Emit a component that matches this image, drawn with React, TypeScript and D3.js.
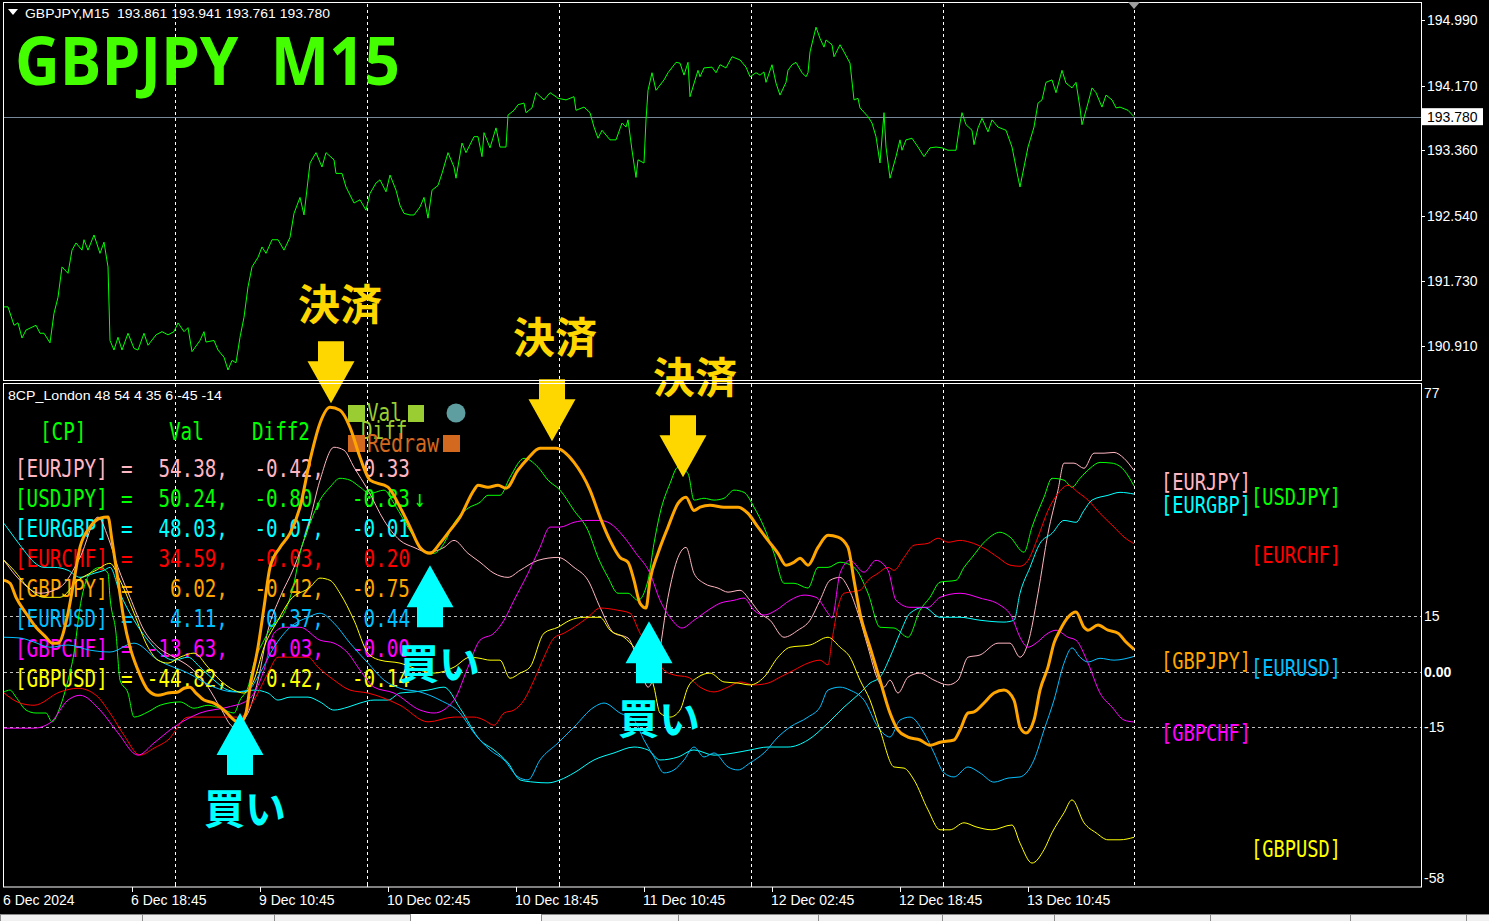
import React from "react";
import * as d3 from "d3";

type P = [number, number];

// ---------- header / price data ----------
const symbolText = "GBPJPY,M15";
const ohlcText = ["193.861", "193.941", "193.761", "193.780"];
const titleText = "GBPJPY  M15";
const indicatorTitle = "8CP_London 48 54 4 35 6 -45 -14";
const priceTicks = [194.99, 194.17, 193.36, 192.54, 191.73, 190.91];
const lastPrice = 193.78;

// [bar index, price]
const gbpjpyPrice: P[] = [[0,191.40],[2,191.40],[5,191.17],[7,191.20],[9,191.01],[11,191.11],[16,191.17],[18,191.07],[20,191.07],[23,190.95],[25,191.32],[27,191.52],[29,191.90],[32,191.82],[34,192.11],[36,192.20],[39,192.11],[40,192.24],[42,192.11],[45,192.30],[48,192.07],[50,192.21],[52,191.90],[53,190.98],[55,190.86],[57,191.02],[59,190.86],[62,191.07],[65,190.88],[67,190.86],[70,191.07],[72,190.92],[76,191.05],[79,191.09],[82,191.05],[85,191.09],[87,191.20],[90,191.09],[92,191.14],[94,190.84],[98,190.98],[100,191.09],[101,190.96],[105,190.98],[107,190.86],[110,190.77],[112,190.61],[114,190.73],[116,190.70],[118,191.02],[120,191.27],[122,191.65],[124,191.90],[127,192.02],[129,192.15],[131,192.07],[134,192.24],[137,192.24],[140,192.11],[143,192.27],[145,192.57],[148,192.77],[150,192.55],[153,193.20],[156,193.33],[159,193.15],[161,193.33],[165,193.24],[166,193.07],[169,193.07],[171,192.90],[175,192.70],[178,192.74],[181,192.61],[183,192.82],[186,192.95],[188,192.99],[191,192.84],[193,193.05],[196,192.86],[198,192.67],[200,192.57],[203,192.55],[205,192.55],[208,192.65],[210,192.77],[212,192.51],[214,192.86],[217,192.92],[219,193.07],[222,193.33],[225,193.15],[226,193.01],[229,193.45],[231,193.33],[235,193.53],[237,193.53],[239,193.28],[240,193.58],[243,193.39],[246,193.64],[248,193.40],[251,193.40],[252,193.80],[255,193.86],[257,193.93],[260,193.95],[261,193.83],[264,193.89],[266,194.08],[270,193.99],[273,194.08],[276,194.03],[277,194.01],[281,193.99],[285,194.03],[286,193.86],[290,193.90],[293,193.83],[295,193.65],[297,193.51],[299,193.61],[303,193.49],[306,193.49],[309,193.70],[311,193.65],[312,193.74],[314,193.36],[316,193.02],[317,193.24],[320,193.20],[321,193.74],[322,194.11],[324,194.33],[326,194.11],[330,194.24],[332,194.33],[336,194.46],[338,194.45],[340,194.30],[342,194.46],[343,194.03],[347,194.36],[348,194.28],[350,194.39],[354,194.40],[356,194.33],[358,194.43],[361,194.39],[364,194.53],[368,194.49],[371,194.40],[373,194.28],[376,194.33],[378,194.30],[380,194.34],[381,194.21],[384,194.43],[386,194.20],[388,194.05],[391,194.21],[392,194.36],[394,194.43],[396,194.46],[399,194.33],[401,194.28],[402,194.33],[403,194.59],[406,194.90],[408,194.76],[410,194.65],[411,194.74],[414,194.68],[415,194.53],[418,194.68],[420,194.59],[423,194.45],[425,193.99],[427,194.01],[428,193.89],[432,193.78],[434,193.70],[436,193.53],[438,193.20],[440,193.83],[441,193.40],[443,193.01],[446,193.28],[448,193.49],[449,193.36],[451,193.49],[454,193.51],[457,193.40],[460,193.28],[463,193.39],[466,193.40],[469,193.39],[472,193.36],[476,193.36],[478,193.70],[479,193.83],[481,193.68],[484,193.61],[485,193.43],[487,193.64],[489,193.76],[492,193.59],[494,193.74],[497,193.65],[501,193.61],[504,193.40],[507,193.02],[508,192.90],[510,193.15],[512,193.40],[515,193.65],[517,193.95],[519,193.99],[521,194.21],[524,194.24],[526,194.08],[529,194.36],[531,194.20],[534,194.14],[536,194.21],[538,193.89],[539,193.68],[542,193.95],[544,194.14],[546,194.08],[549,193.90],[551,194.05],[554,193.99],[556,193.89],[558,193.90],[562,193.86],[565,193.78]];

// ---------- indicator data ----------
const indTickLabels: [number, string][] = [[77, "77"], [15, "15"], [0, "0.00"], [-15, "-15"], [-58, "-58"]];
const levelLines = [15, 0, -15];

const pairs = ["EURJPY", "USDJPY", "EURGBP", "EURCHF", "GBPJPY", "EURUSD", "GBPCHF", "GBPUSD"];
const pairColors = ["#ffb6c1", "#00ff00", "#00ffff", "#ff0000", "#ffa500", "#00bfff", "#ff00ff", "#ffff00"];
const diff2Vals = ["-0.42", "-0.80", "-0.07", "-0.03", "-0.42", "0.37", "0.03", "0.42"];
const diffVals = ["-0.33", "-0.83", "-0.01", "0.20", "-0.75", "0.44", "-0.00", "-0.14"];
const diffMarks = ["", "↓", "", "", "", "", "", ""];

const eurjpy: P[] = [[0,30.1],[8,24.7],[18,21.2],[28,22.8],[38,30.9],[47,41.8],[52,36.4],[57,28.2],[63,20.1],[70,11.2],[77,6.6],[85,3.9],[93,1.2],[102,-4.2],[108,-9.6],[115,-15.0],[122,-11.2],[127,-2.3],[132,11.2],[138,20.1],[145,28.2],[152,39.1],[158,51.8],[165,60.7],[170,59.9],[175,55.3],[182,49.1],[190,40.9],[198,35.5],[205,33.6],[212,32.3],[220,33.6],[225,35.5],[232,32.0],[238,29.6],[245,26.6],[252,25.5],[258,27.4],[267,30.1],[277,30.9],[285,28.2],[292,24.7],[298,17.4],[305,10.4],[312,9.1],[318,1.2],[322,-4.2],[327,3.1],[332,20.1],[337,30.9],[341,33.6],[345,26.6],[350,23.9],[357,22.6],[362,21.5],[368,22.0],[373,19.3],[378,15.8],[383,13.9],[390,9.3],[397,11.2],[403,13.9],[408,19.3],[413,24.7],[418,25.5],[422,22.8],[427,15.8],[432,6.6],[437,-2.3],[440,-4.2],[443,-2.3],[447,-5.8],[452,-1.5],[458,-0.4],[465,-2.3],[472,-3.6],[477,-2.3],[482,3.9],[488,4.5],[497,7.7],[503,7.7],[508,3.9],[512,7.7],[517,21.2],[522,37.4],[527,49.1],[530,56.4],[535,56.4],[540,55.0],[545,59.1],[550,59.1],[555,59.3],[560,57.7],[565,54.38]];

const usdjpy: P[] = [[0,-5.5],[3,-5.0],[6,-6.9],[11,-10.4],[16,-11.2],[21,-11.2],[24,-13.6],[28,-9.6],[32,-2.3],[35,5.0],[38,17.4],[43,26.6],[48,28.2],[52,26.6],[53,20.1],[56,10.4],[58,-2.3],[62,-5.8],[65,-12.3],[72,-10.9],[78,-9.1],[88,-8.2],[95,-9.9],[102,-9.1],[108,-9.9],[115,-11.2],[118,-7.7],[122,-4.2],[125,2.3],[130,8.5],[135,13.1],[140,15.8],[145,23.9],[148,32.0],[153,40.1],[158,46.4],[163,49.9],[168,52.3],[173,51.8],[178,49.9],[183,48.2],[190,49.1],[195,45.5],[200,40.9],[205,36.4],[210,32.8],[215,32.0],[220,34.7],[225,40.1],[232,44.2],[238,45.8],[242,47.7],[248,47.7],[253,52.6],[260,57.7],[267,55.3],[272,51.8],[278,49.1],[285,43.6],[292,38.2],[297,30.9],[302,25.5],[307,21.2],[312,21.2],[317,19.3],[322,24.7],[325,34.7],[328,42.8],[333,50.9],[337,55.3],[342,53.6],[345,46.4],[350,46.9],[355,46.4],[360,46.9],[365,49.1],[370,48.5],[375,44.5],[380,39.1],[385,32.0],[390,23.9],[395,23.9],[402,22.6],[407,28.2],[412,28.2],[418,29.6],[425,28.2],[432,21.2],[438,12.0],[445,11.8],[452,9.3],[458,16.6],[463,20.1],[468,24.2],[476,24.7],[480,28.2],[484,30.9],[491,35.5],[498,37.7],[503,36.4],[510,32.3],[514,39.1],[520,47.2],[524,52.3],[530,51.8],[534,49.9],[538,52.3],[543,55.0],[548,56.6],[554,56.4],[560,54.5],[565,50.24]];

const eurgbp: P[] = [[0,40.1],[5,36.4],[10,32.8],[15,29.6],[20,28.2],[25,28.2],[32,27.4],[38,25.5],[45,26.6],[50,27.4],[53,28.2],[58,21.2],[65,13.9],[72,8.5],[78,5.0],[85,3.1],[92,3.9],[98,1.2],[105,-2.3],[112,-5.0],[118,-5.5],[125,-5.0],[132,-5.8],[137,-7.7],[143,-6.9],[152,-6.9],[158,-8.2],[165,-10.4],[172,-9.6],[178,-8.5],[185,-7.7],[192,-7.7],[198,-5.8],[205,-5.5],[212,-5.0],[220,-4.2],[228,-9.9],[238,-18.5],[245,-21.2],[252,-24.7],[258,-29.3],[265,-29.9],[272,-30.1],[278,-29.3],[285,-27.4],[295,-23.9],[305,-22.0],[315,-20.4],[322,-21.2],[328,-23.9],[337,-23.1],[345,-21.2],[355,-22.6],[365,-22.0],[373,-21.2],[382,-20.4],[392,-20.4],[402,-18.5],[412,-13.9],[420,-9.6],[428,-5.8],[433,-3.1],[438,-1.5],[443,3.9],[448,10.4],[453,15.8],[460,17.4],[468,14.7],[478,14.7],[488,13.9],[500,13.4],[505,13.9],[508,21.2],[513,28.2],[518,34.7],[524,37.4],[530,40.9],[536,40.4],[540,43.6],[544,46.4],[552,47.7],[558,48.5],[565,48.03]];

const eurchf: P[] = [[0,-5.8],[8,-8.5],[15,-9.1],[28,-5.5],[37,-4.5],[46,-6.4],[53,-11.2],[60,-17.2],[68,-22.6],[75,-20.7],[82,-18.5],[92,-12.3],[107,-12.3],[118,-12.3],[125,-7.7],[132,-0.4],[137,3.9],[145,3.9],[152,3.9],[157,1.2],[165,-2.3],[173,-5.0],[182,-5.8],[198,-9.1],[212,-13.6],[225,-12.3],[235,-12.3],[240,-13.1],[245,-14.5],[250,-11.2],[255,-10.4],[260,-7.7],[265,-2.3],[270,3.9],[275,9.1],[280,10.4],[285,12.0],[292,14.7],[298,17.2],[307,16.6],[313,15.8],[318,10.4],[323,6.6],[330,0.4],[335,-0.9],[342,-1.5],[348,-4.2],[355,-5.5],[362,-4.2],[368,-2.8],[375,-3.6],[382,-3.1],[388,-1.5],[395,0.4],[402,2.3],[408,3.1],[412,1.8],[414,8.5],[417,17.4],[420,21.2],[423,21.5],[428,22.0],[432,24.7],[437,26.6],[442,28.2],[445,27.4],[450,30.9],[455,34.2],[462,34.7],[467,36.1],[472,35.0],[478,35.5],[483,35.0],[490,33.4],[497,30.9],[503,28.8],[508,28.5],[512,30.1],[517,36.4],[522,43.6],[527,48.2],[532,50.4],[537,48.5],[542,46.4],[548,42.8],[555,39.1],[560,36.4],[565,34.59]];

const gbpjpy: P[] = [[0,24.7],[3,23.9],[6,20.1],[11,15.8],[16,12.0],[21,9.3],[24,7.7],[27,7.7],[32,15.8],[35,24.7],[38,33.6],[43,39.1],[48,41.5],[52,41.8],[54,35.5],[57,24.7],[60,13.9],[63,6.6],[67,0.4],[72,-5.0],[77,-6.4],[82,-5.8],[87,-5.5],[90,-4.5],[93,-4.2],[96,-5.8],[100,-7.7],[105,-8.5],[110,-10.4],[115,-13.1],[118,-13.9],[121,-11.2],[123,-4.2],[127,6.6],[130,17.4],[133,28.2],[138,33.6],[143,37.4],[148,44.5],[153,57.2],[158,67.2],[163,71.5],[168,70.7],[173,66.1],[178,58.0],[183,51.8],[192,49.9],[198,44.5],[203,39.1],[208,33.6],[213,32.0],[218,34.7],[223,38.2],[228,41.8],[235,49.1],[237,50.4],[242,49.9],[247,50.4],[251,49.6],[257,54.5],[262,57.7],[268,60.4],[276,60.4],[285,56.6],[293,49.1],[298,41.8],[303,35.5],[308,30.9],[312,29.6],[315,24.7],[318,18.5],[321,17.2],[323,24.7],[327,32.0],[332,39.1],[337,45.5],[341,47.2],[345,43.6],[348,44.5],[353,45.0],[360,44.5],[367,44.5],[372,42.8],[377,39.1],[382,35.5],[387,32.0],[391,28.8],[395,29.6],[398,30.7],[402,28.8],[407,33.6],[412,36.9],[417,36.4],[422,33.6],[425,24.7],[428,15.8],[433,6.6],[438,-2.3],[443,-11.2],[447,-15.8],[452,-17.7],[458,-18.5],[463,-19.9],[468,-19.1],[475,-18.5],[478,-15.8],[482,-11.2],[485,-10.9],[490,-8.5],[495,-5.8],[500,-5.0],[505,-7.7],[508,-15.0],[511,-16.6],[515,-13.1],[518,-5.0],[522,1.2],[525,7.7],[528,11.2],[532,14.7],[536,16.1],[540,12.0],[542,11.2],[547,12.6],[552,11.2],[557,10.4],[561,8.0],[565,6.02]];

const eurusd: P[] = [[0,9.3],[8,9.1],[15,8.0],[23,6.6],[32,7.2],[43,5.8],[53,5.3],[65,7.7],[77,3.1],[92,-0.4],[105,-4.2],[115,-5.5],[122,-5.0],[128,-0.4],[135,6.6],[143,12.0],[152,14.7],[158,15.8],[165,13.1],[173,7.7],[182,2.3],[190,-2.3],[198,-4.5],[208,-5.5],[218,-7.7],[228,-11.2],[235,-16.6],[243,-21.2],[250,-23.9],[257,-28.5],[262,-29.3],[268,-23.9],[277,-19.3],[285,-15.0],[295,-9.6],[300,-8.5],[308,-11.2],[315,-13.1],[320,-18.5],[325,-23.1],[330,-27.4],[335,-26.6],[340,-23.9],[345,-20.4],[350,-23.1],[355,-22.0],[362,-25.8],[367,-26.6],[373,-24.7],[380,-22.0],[387,-17.7],[393,-15.0],[402,-12.3],[408,-9.6],[412,-5.0],[418,-4.2],[423,-5.0],[430,-7.7],[437,-15.0],[443,-17.7],[448,-13.1],[453,-12.3],[460,-16.6],[465,-22.0],[470,-27.4],[475,-28.5],[482,-25.8],[488,-27.4],[495,-29.9],[502,-28.8],[508,-28.5],[515,-23.9],[520,-15.8],[525,-7.7],[530,2.3],[534,6.4],[538,3.9],[542,2.6],[548,3.6],[555,3.1],[565,4.11]];

const gbpchf: P[] = [[0,-15.3],[15,-15.3],[23,-13.9],[32,-7.7],[38,-6.4],[48,-10.4],[57,-16.6],[67,-22.6],[75,-19.3],[85,-15.0],[98,-11.2],[112,-9.6],[122,-7.7],[130,0.4],[135,10.4],[140,12.0],[148,12.0],[158,8.5],[165,7.7],[172,5.0],[178,0.4],[185,-4.2],[195,-5.8],[208,-10.4],[215,-11.2],[225,-7.7],[232,1.2],[238,8.5],[245,10.4],[250,13.9],[255,19.3],[262,26.6],[268,33.6],[273,39.1],[278,39.1],[285,40.4],[292,40.9],[298,40.9],[303,40.1],[310,36.4],[316,32.0],[323,26.6],[328,19.3],[333,14.7],[339,11.8],[345,13.9],[352,16.6],[358,18.5],[365,19.3],[370,19.9],[375,16.6],[380,15.3],[386,16.6],[393,19.3],[400,20.7],[406,20.1],[412,15.8],[414,14.5],[418,26.6],[423,30.1],[430,26.9],[436,30.1],[442,27.4],[446,19.3],[453,17.4],[462,17.4],[468,20.1],[478,21.2],[488,19.9],[498,18.0],[504,14.7],[508,9.3],[512,6.6],[516,7.7],[522,10.4],[526,11.2],[532,9.3],[536,8.5],[542,2.3],[548,-5.8],[554,-9.6],[560,-13.1],[565,-13.63]];

const gbpusd: P[] = [[0,30.1],[5,27.4],[12,22.8],[20,20.1],[28,20.1],[37,24.7],[46,27.4],[53,29.3],[58,24.7],[65,15.8],[72,6.6],[77,3.1],[82,2.3],[88,3.9],[95,5.0],[102,1.2],[108,-2.3],[115,-5.0],[120,-5.8],[125,-2.3],[130,6.6],[137,13.9],[143,19.3],[153,22.8],[158,25.3],[163,24.7],[168,21.2],[175,13.9],[182,5.0],[188,3.1],[198,2.3],[208,0.4],[215,-0.4],[225,1.2],[233,3.9],[238,3.6],[243,3.1],[248,3.1],[253,-1.8],[258,-0.4],[263,1.2],[270,10.4],[277,12.0],[283,13.9],[290,14.7],[298,14.7],[303,11.2],[310,9.3],[315,6.6],[322,1.2],[325,-4.2],[328,-11.2],[333,-12.3],[338,-10.4],[342,-4.2],[347,-1.5],[353,-0.4],[360,-2.8],[367,-3.1],[373,-3.6],[380,-1.5],[387,3.9],[393,6.6],[403,7.2],[412,9.3],[418,6.6],[423,3.9],[428,-2.3],[433,-7.7],[438,-15.8],[445,-25.8],[450,-26.1],[455,-29.3],[462,-37.4],[468,-42.8],[473,-42.8],[480,-40.9],[486,-42.0],[494,-42.8],[504,-41.5],[508,-46.4],[514,-51.8],[520,-48.2],[524,-43.6],[530,-38.2],[534,-34.7],[540,-40.9],[546,-43.6],[552,-45.5],[558,-45.5],[565,-44.82]];

const seriesList: P[][] = [eurjpy, usdjpy, eurgbp, eurchf, gbpjpy, eurusd, gbpchf, gbpusd];
const drawOrder = [0, 1, 2, 3, 5, 6, 7, 4];

// ---------- time axis ----------
const timeLabels = ["6 Dec 2024", "6 Dec 18:45", "9 Dec 10:45", "10 Dec 02:45", "10 Dec 18:45", "11 Dec 10:45", "12 Dec 02:45", "12 Dec 18:45", "13 Dec 10:45"];
const timeLabelBars = [0, 64, 128, 192, 256, 320, 384, 448, 512];
const daySeparators = [85.5, 181.5, 277.5, 373.5, 469.5];
const currentBar = 565;

// ---------- signals (tip at [bar, value], label at [bar, value]) ----------
const exitSignals = [
  { bar: 163.5, val: 72.6, labelBar: 168, labelVal: 100.0 },
  { bar: 274, val: 62.3, labelBar: 275.5, labelVal: 91.3 },
  { bar: 339.5, val: 52.6, labelBar: 345.5, labelVal: 80.5 },
];
const buySignals = [
  { bar: 118, val: -11.2, labelBar: 120.5, labelVal: -36.4 },
  { bar: 213, val: 28.8, labelBar: 217.5, labelVal: 2.8 },
  { bar: 322.5, val: 13.6, labelBar: 327.5, labelVal: -12.0 },
];
const exitText = "決済";
const buyText = "買い";

const AXIS_FONT = "'Liberation Sans', Arial, sans-serif";
const MONO = "'DejaVu Sans Mono', 'Liberation Mono', monospace";
const JP = "'Noto Sans CJK JP', sans-serif";
const MONO_ADV = 0.602;
const CW = 11.6;
const RCW = 11.25;

function arrowPath(cx: number, tipY: number, dir: number) {
  const H = 62, hh = 42, sw = 13, hw = 23.5;
  const base = tipY - dir * H;
  const neck = tipY - dir * hh;
  return `M${cx - sw},${base}L${cx + sw},${base}L${cx + sw},${neck}L${cx + hw},${neck}L${cx},${tipY}L${cx - hw},${neck}L${cx - sw},${neck}Z`;
}

// Tall, narrow monospace text (gothic-like) drawn with natural widths
function Mono({ x, y, fill, cw = CW, children }: { x: number; y: number; fill: string; cw?: number; children: React.ReactNode }) {
  return (
    <text
      transform={`translate(${x},${y}) scale(1,1.25)`}
      x={0}
      y={0}
      fill={fill}
      fontFamily={MONO}
      fontSize={cw / MONO_ADV}
      dominantBaseline="central"
      style={{ whiteSpace: "pre" }}
    >
      {children}
    </text>
  );
}

export default function App() {
  const W = 1489, H = 921;
  const L = 4, R = 1421;
  const x = d3.scaleLinear().domain([0, 708.5]).range([L, R]);
  const py = d3.scaleLinear().domain([190.485, 195.19]).range([380, 4]);
  const iy = d3.scaleLinear().domain([-58, 77]).range([886, 387]);
  const priceLine = d3.line<P>().x((d) => x(d[0])).y((d) => py(d[1]));
  const indLine = d3.line<P>().x((d) => x(d[0])).y((d) => iy(d[1])).curve(d3.curveMonotoneX);

  const vLines = [...daySeparators, currentBar];

  return (
    <svg width={W} height={H} style={{ position: "absolute", left: 0, top: 0, display: "block" }}>
      <defs>
        <clipPath id="clipTop"><rect x={L} y={4} width={R - L} height={376} /></clipPath>
        <clipPath id="clipBot"><rect x={L} y={384} width={R - L} height={502} /></clipPath>
      </defs>
      <rect x={0} y={0} width={W} height={H} fill="#000" />

      {/* grid: vertical day separators */}
      {vLines.map((b, i) => (
        <g key={"v" + i}>
          <line x1={Math.round(x(b)) + 0.5} x2={Math.round(x(b)) + 0.5} y1={4} y2={380} stroke="#fff" strokeDasharray="3,3" />
          <line x1={Math.round(x(b)) + 0.5} x2={Math.round(x(b)) + 0.5} y1={384} y2={886} stroke="#fff" strokeDasharray="3,3" />
        </g>
      ))}
      {/* level lines */}
      {levelLines.map((v) => (
        <line key={"lv" + v} x1={L} x2={R} y1={Math.round(iy(v)) + 0.5} y2={Math.round(iy(v)) + 0.5} stroke="#c0c0c0" strokeDasharray="3,3" />
      ))}
      {/* last price line */}
      <line x1={L} x2={R} y1={Math.round(py(lastPrice)) + 0.5} y2={Math.round(py(lastPrice)) + 0.5} stroke="#778899" />

      {/* price line */}
      <path d={priceLine(gbpjpyPrice) || ""} fill="none" stroke="#00ff00" strokeWidth={1} clipPath="url(#clipTop)" />

      {/* headers */}
      <path d="M8,9 L18,9 L13,15 Z" fill="#fff" />
      <text x={25} y={13} fill="#fff" fontFamily={AXIS_FONT} fontSize={13} dominantBaseline="central" textLength={305} lengthAdjust="spacingAndGlyphs" style={{ whiteSpace: "pre" }}>
        {`${symbolText}  ${ohlcText.join(" ")}`}
      </text>
      <text x={15} y={85} fill="#44ff00" fontFamily="'Open Sans', 'DejaVu Sans', sans-serif" fontWeight={700} fontSize={66} textLength={385} lengthAdjust="spacingAndGlyphs" style={{ whiteSpace: "pre" }}>
        {titleText}
      </text>
      <text x={8} y={395.5} fill="#fff" fontFamily={AXIS_FONT} fontSize={13} dominantBaseline="central" textLength={214} lengthAdjust="spacingAndGlyphs">
        {indicatorTitle}
      </text>

      {/* table */}
      <Mono x={40} y={432} fill="#00ff00">[CP]</Mono>
      <Mono x={169} y={432} fill="#00ff00">Val</Mono>
      <Mono x={252} y={432} fill="#00ff00">Diff2</Mono>
      {pairs.map((p, i) => {
        const yy = 469 + i * 30;
        const s = seriesList[i];
        const val = s[s.length - 1][1].toFixed(2) + ",";
        const d2 = diff2Vals[i] + ",";
        const d1 = diffVals[i];
        const c = pairColors[i];
        return (
          <g key={p}>
            <Mono x={15} y={yy} fill={c}>{`[${p}]`}</Mono>
            <Mono x={121} y={yy} fill={c}>=</Mono>
            <Mono x={228 - val.length * CW} y={yy} fill={c}>{val}</Mono>
            <Mono x={324 - d2.length * CW} y={yy} fill={c}>{d2}</Mono>
            <Mono x={410 - d1.length * CW} y={yy} fill={c}>{d1}</Mono>
            {diffMarks[i] && <Mono x={414} y={yy} fill={c}>{diffMarks[i]}</Mono>}
          </g>
        );
      })}

      {/* legend */}
      <rect x={348} y={405} width={17} height={17} fill="#9acd32" />
      <Mono x={367} y={413} fill="#9acd32">Val</Mono>
      <rect x={408} y={405} width={16} height={17} fill="#9acd32" />
      <circle cx={456} cy={413} r={9.5} fill="#5f9ea0" />
      <Mono x={361} y={431} fill="#9acd32">Diff</Mono>
      <rect x={348} y={435} width={17} height={17} fill="#d2691e" />
      <Mono x={367} y={443.5} fill="#d2691e" cw={12}>Redraw</Mono>
      <rect x={443} y={435} width={17} height={17} fill="#d2691e" />

      {/* indicator lines */}
      <g clipPath="url(#clipBot)" fill="none">
        {drawOrder.map((i) => (
          <path key={"s" + i} d={indLine(seriesList[i]) || ""} stroke={pairColors[i]} strokeWidth={i === 4 ? 3 : 1} strokeLinejoin="round" />
        ))}
      </g>

      {/* right-side pair labels */}
      {pairs.map((p, i) => {
        const s = seriesList[i];
        const last = s[s.length - 1];
        return (
          <Mono key={"rl" + p} x={i % 2 === 0 ? 1161 : 1251} y={iy(last[1]) + 11} fill={pairColors[i]} cw={RCW}>
            {`[${p}]`}
          </Mono>
        );
      })}

      {/* signals */}
      {exitSignals.map((s, i) => (
        <g key={"ex" + i}>
          <path d={arrowPath(x(s.bar), iy(s.val), 1)} fill="#ffd700" />
          <text x={x(s.labelBar)} y={iy(s.labelVal)} fill="#ffd700" fontFamily={JP} fontWeight={700} fontSize={42} textAnchor="middle" dominantBaseline="central">{exitText}</text>
        </g>
      ))}
      {buySignals.map((s, i) => (
        <g key={"by" + i}>
          <path d={arrowPath(x(s.bar), iy(s.val), -1)} fill="#00ffff" />
          <text x={x(s.labelBar)} y={iy(s.labelVal)} fill="#00ffff" fontFamily={JP} fontWeight={700} fontSize={41} textAnchor="middle" dominantBaseline="central">{buyText}</text>
        </g>
      ))}

      {/* frames */}
      <rect x={3.5} y={2.5} width={R - 3.5 + 0.5} height={378} fill="none" stroke="#fff" />
      <rect x={3.5} y={383.5} width={R - 3.5 + 0.5} height={503.5} fill="none" stroke="#fff" />
      <path d={`M${x(currentBar) - 6},2 L${x(currentBar) + 6},2 L${x(currentBar)},9 Z`} fill="#a0a0a0" />

      {/* price axis */}
      <g fontFamily={AXIS_FONT} fontSize={14} fill="#fff">
        {priceTicks.map((v) => (
          <g key={"pt" + v}>
            <line x1={R} x2={R + 4} y1={Math.round(py(v)) + 0.5} y2={Math.round(py(v)) + 0.5} stroke="#fff" />
            <text x={R + 6} y={py(v)} dominantBaseline="central">{v.toFixed(3)}</text>
          </g>
        ))}
        <rect x={R + 1} y={py(lastPrice) - 8.5} width={61} height={17} fill="#fff" />
        <text x={R + 6} y={py(lastPrice)} fill="#000" dominantBaseline="central">{lastPrice.toFixed(3)}</text>
      </g>

      {/* indicator axis */}
      <g fontFamily={AXIS_FONT} fontSize={14} fill="#fff">
        {indTickLabels.map(([v, t]) => {
          const off = v === 77 ? 6 : v === -58 ? -8 : 0;
          return (
            <text key={"it" + v} x={R + 3} y={iy(v) + off} dominantBaseline="central" fontWeight={v === 0 ? 700 : 400}>{t}</text>
          );
        })}
      </g>

      {/* time axis */}
      <g fontFamily={AXIS_FONT} fontSize={14} fill="#fff">
        {daySeparators.map((b, i) => (
          <line key={"mt" + i} x1={Math.round(x(b)) + 0.5} x2={Math.round(x(b)) + 0.5} y1={882} y2={887} stroke="#fff" />
        ))}
        {timeLabelBars.map((b, i) => (
          <g key={"tl" + i}>
            {b > 0 && <line x1={Math.round(x(b)) + 0.5} x2={Math.round(x(b)) + 0.5} y1={887} y2={892} stroke="#fff" />}
            <text x={x(b) - 1} y={900} dominantBaseline="central">{timeLabels[i]}</text>
          </g>
        ))}
      </g>

      {/* bottom tab strip */}
      <rect x={0} y={914} width={W} height={7} fill="#f0f0f0" />
      <rect x={0.5} y={914.5} width={410} height={8} fill="#f0f0f0" stroke="#8a8a8a" />
      <rect x={411} y={914} width={130} height={7} fill="#ffffff" />
      <rect x={541.5} y={914.5} width={948} height={8} fill="#f0f0f0" stroke="#8a8a8a" />
      {[142, 274, 678, 818, 942, 1054, 1210, 1350, 1466].map((sx) => (
        <line key={"tab" + sx} x1={sx + 0.5} x2={sx + 0.5} y1={915} y2={921} stroke="#8a8a8a" />
      ))}
    </svg>
  );
}
